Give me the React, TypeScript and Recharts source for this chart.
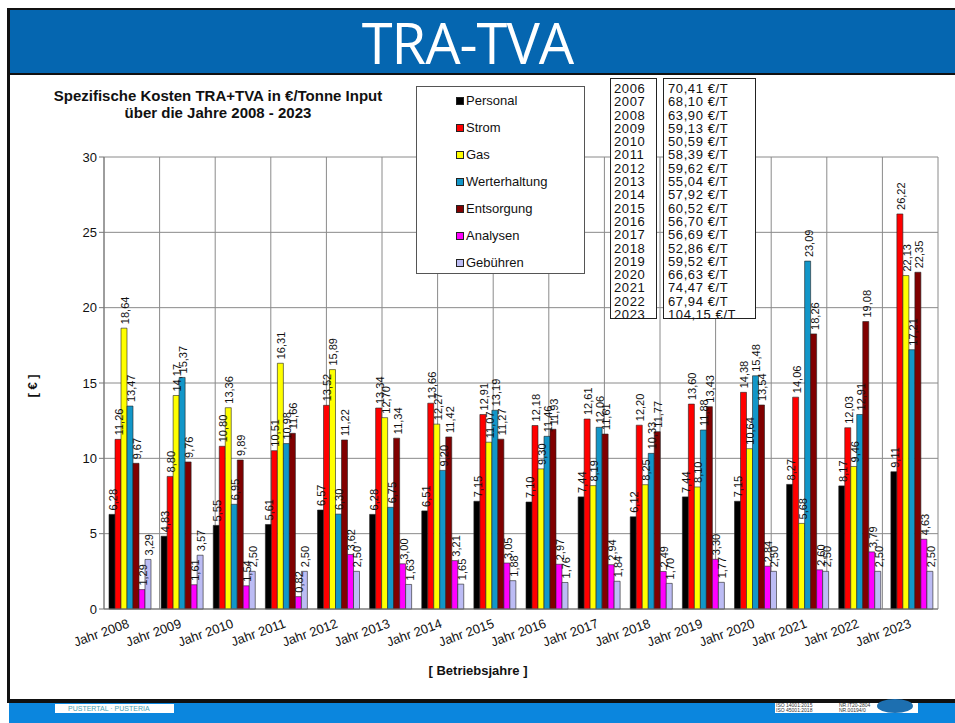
import { BarChart, Bar, XAxis, YAxis, CartesianGrid, LabelList } from "recharts";

const years = ["Jahr 2008", "Jahr 2009", "Jahr 2010", "Jahr 2011", "Jahr 2012", "Jahr 2013", "Jahr 2014", "Jahr 2015", "Jahr 2016", "Jahr 2017", "Jahr 2018", "Jahr 2019", "Jahr 2020", "Jahr 2021", "Jahr 2022", "Jahr 2023"];
const personal = [6.28, 4.83, 5.55, 5.61, 6.57, 6.28, 6.51, 7.15, 7.1, 7.44, 6.12, 7.44, 7.15, 8.27, 8.17, 9.11];
const strom = [11.26, 8.8, 10.8, 10.51, 13.52, 13.34, 13.66, 12.91, 12.18, 12.61, 12.2, 13.6, 14.38, 14.06, 12.03, 26.22];
const gas = [18.64, 14.17, 13.36, 16.31, 15.89, 12.7, 12.27, 11.07, 9.3, 8.19, 8.25, 8.1, 10.64, 5.68, 9.46, 22.13];
const werterhaltung = [13.47, 15.37, 6.95, 10.98, 6.3, 6.75, 9.2, 13.19, 11.46, 12.06, 10.33, 11.88, 15.48, 23.09, 12.91, 17.21];
const entsorgung = [9.67, 9.76, 9.89, 11.66, 11.22, 11.34, 11.42, 11.27, 11.93, 11.61, 11.77, 13.43, 13.54, 18.26, 19.08, 22.35];
const analysen = [1.29, 1.61, 1.54, 0.82, 3.62, 3.0, 3.21, 3.05, 2.97, 2.94, 2.49, 3.3, 2.84, 2.6, 3.79, 4.63];
const gebuehren = [3.29, 3.57, 2.5, 2.5, 2.5, 1.63, 1.65, 1.88, 1.76, 1.84, 1.7, 1.77, 2.5, 2.5, 2.5, 2.5];

const yTicks = [0, 5, 10, 15, 20, 25, 30];
const gridTicks = [0, 1, 2, 3, 4, 5, 6, 7, 8, 9, 10, 11, 12, 13, 14, 15, 16];

const totalYears = ["2006", "2007", "2008", "2009", "2010", "2011", "2012", "2013", "2014", "2015", "2016", "2017", "2018", "2019", "2020", "2021", "2022", "2023"];
const totalCosts = ["70,41 €/T", "68,10 €/T", "63,90 €/T", "59,13 €/T", "50,59 €/T", "58,39 €/T", "59,62 €/T", "55,04 €/T", "57,92 €/T", "60,52 €/T", "56,70 €/T", "56,69 €/T", "52,86 €/T", "59,52 €/T", "66,63 €/T", "74,47 €/T", "67,94 €/T", "104,15 €/T"];

const series = [
    { key: "personal", name: "Personal", color: "#000000" },
    { key: "strom", name: "Strom", color: "#ff0000" },
    { key: "gas", name: "Gas", color: "#ffff00" },
    { key: "werterhaltung", name: "Werterhaltung", color: "#1296c8" },
    { key: "entsorgung", name: "Entsorgung", color: "#800000" },
    { key: "analysen", name: "Analysen", color: "#ff00ff" },
    { key: "gebuehren", name: "Gebühren", color: "#bcbcf4" },
];

const data = years.map((y, i) => ({
    year: y,
    personal: personal[i],
    strom: strom[i],
    gas: gas[i],
    werterhaltung: werterhaltung[i],
    entsorgung: entsorgung[i],
    analysen: analysen[i],
    gebuehren: gebuehren[i],
}));

const FONT = "'Liberation Sans', Arial, sans-serif";

const fmt = (v: number) => v.toFixed(2).replace(".", ",");

function ValueLabel(props: any) {
    const { x, y, width, value } = props;
    const cx = x + width / 2 + 1;
    const cy = y - 4;
    return (
        <text
            x={cx}
            y={cy}
            transform={`rotate(-90 ${cx} ${cy})`}
            textAnchor="start"
            dominantBaseline="central"
            fontSize={11}
            fontFamily={FONT}
            fill="#111"
        >
            {fmt(value)}
        </text>
    );
}

function YearTick(props: any) {
    const { x, y, payload } = props;
    const ty = y + 10;
    return (
        <text
            x={x}
            y={ty}
            transform={`rotate(-20 ${x} ${ty})`}
            textAnchor="end"
            fontSize={13}
            fontFamily={FONT}
            fill="#111"
        >
            {payload.value}
        </text>
    );
}

const tableText = { fontFamily: FONT, fontSize: 13, letterSpacing: 0.6, lineHeight: "13.3px", color: "#111" };

export default function App() {
    return (
        <div style={{ position: "absolute", left: 0, top: 0, width: 955, height: 723, background: "#fff", overflow: "hidden" }}>
            {/* header */}
            <div style={{ position: "absolute", left: 7, top: 8, width: 948, height: 67, background: "#0566b0", borderTop: "2px solid #111", borderBottom: "2px solid #111", boxSizing: "border-box" }} />
            <div style={{ position: "absolute", left: 0, width: 935, top: 10, height: 64, textAlign: "center", color: "#fff", fontFamily: "'Open Sans', sans-serif", fontSize: 56, letterSpacing: -1, lineHeight: "64px" }}>
                TRA-TVA
            </div>
            {/* left border */}
            <div style={{ position: "absolute", left: 7, top: 8, width: 3, height: 695, background: "#111" }} />
            {/* footer */}
            <div style={{ position: "absolute", left: 7, top: 699, width: 948, height: 4, background: "#111" }} />
            <div style={{ position: "absolute", left: 9, top: 703, width: 946, height: 20, background: "#0b86de" }} />
            <div style={{ position: "absolute", left: 55, top: 704, width: 119, height: 9, background: "#fff", fontFamily: FONT, fontSize: 7, color: "#4aa3b5", lineHeight: "9px", paddingLeft: 13, boxSizing: "border-box" }}>
                PUSTERTAL · PUSTERIA
            </div>
            <div style={{ position: "absolute", left: 775, top: 703, width: 143, height: 10, background: "#fff", fontFamily: FONT, fontSize: 5, color: "#333", lineHeight: "5px" }}>
                <div style={{ position: "absolute", left: 1, top: 0 }}>ISO 14001:2015<br />ISO 45001:2018</div>
                <div style={{ position: "absolute", left: 64, top: 0 }}>NR.IT20-2804<br />NR.00194/0</div>
                <div style={{ position: "absolute", left: 102, top: -4, width: 36, height: 14, borderRadius: "50%", background: "#1d6fb0" }} />
            </div>

            {/* titles */}
            <div style={{ position: "absolute", left: 20, width: 396, top: 87, textAlign: "center", fontFamily: FONT, fontWeight: "bold", fontSize: 15, lineHeight: "17px", color: "#111" }}>
                Spezifische Kosten TRA+TVA in €/Tonne Input
                <br />
                über die Jahre 2008 - 2023
            </div>
            <div style={{ position: "absolute", left: 32, top: 386, transform: "translate(-50%, -50%) rotate(-90deg)", fontFamily: FONT, fontWeight: "bold", fontSize: 13, color: "#111", whiteSpace: "nowrap" }}>
                [ € ]
            </div>
            <div style={{ position: "absolute", left: 300, width: 356, top: 663, textAlign: "center", fontFamily: FONT, fontWeight: "bold", fontSize: 13, color: "#111" }}>
                [ Betriebsjahre ]
            </div>

            <div style={{ position: "absolute", left: 0, top: 0 }}>
                <BarChart width={955} height={723} data={data} margin={{ top: 157, right: 17, bottom: 74, left: 64 }} barGap={0}>
                    <CartesianGrid xAxisId="grid" stroke="#8a8a8a" strokeWidth={1} />
                    <XAxis xAxisId="grid" type="number" domain={[0, 16]} ticks={gridTicks} hide />
                    <XAxis dataKey="year" height={40} tick={<YearTick />} tickLine={false} axisLine={{ stroke: "#777" }} interval={0} />
                    <YAxis
                        width={40}
                        domain={[0, 30]}
                        ticks={yTicks}
                        interval={0}
                        tickSize={5}
                        tick={{ fill: "#111", fontSize: 13, fontFamily: FONT }}
                        tickLine={{ stroke: "#777" }}
                        axisLine={{ stroke: "#777" }}
                    />
                    {series.map((s) => (
                        <Bar key={s.key} dataKey={s.key} name={s.name} fill={s.color} stroke="#222" strokeWidth={0.6} barSize={6} isAnimationActive={false}>
                            <LabelList dataKey={s.key} content={<ValueLabel />} />
                        </Bar>
                    ))}
                </BarChart>
            </div>

            {/* legend */}
            <div style={{ position: "absolute", left: 416, top: 86, width: 169, height: 188, border: "1px solid #555", background: "#fff", boxSizing: "border-box", paddingTop: 0, fontFamily: FONT, fontSize: 13, color: "#111" }}>
                {series.map((s) => (
                    <div key={s.key} style={{ height: 27, display: "flex", alignItems: "center", paddingLeft: 39 }}>
                        <span style={{ width: 6, height: 6, background: s.color, border: "1px solid #222", marginRight: 2 }} />
                        {s.name}
                    </div>
                ))}
            </div>

            {/* totals table */}
            <div style={{ position: "absolute", left: 610, top: 78, width: 47, height: 241, border: "1px solid #222", background: "#fff", boxSizing: "border-box", padding: "3px 0 0 3px", ...tableText }}>
                {totalYears.map((y) => (
                    <div key={y}>{y}</div>
                ))}
            </div>
            <div style={{ position: "absolute", left: 663, top: 78, width: 93, height: 241, border: "1px solid #222", background: "#fff", boxSizing: "border-box", padding: "3px 0 0 4px", whiteSpace: "nowrap", ...tableText }}>
                {totalCosts.map((c) => (
                    <div key={c}>{c}</div>
                ))}
            </div>
        </div>
    );
}
